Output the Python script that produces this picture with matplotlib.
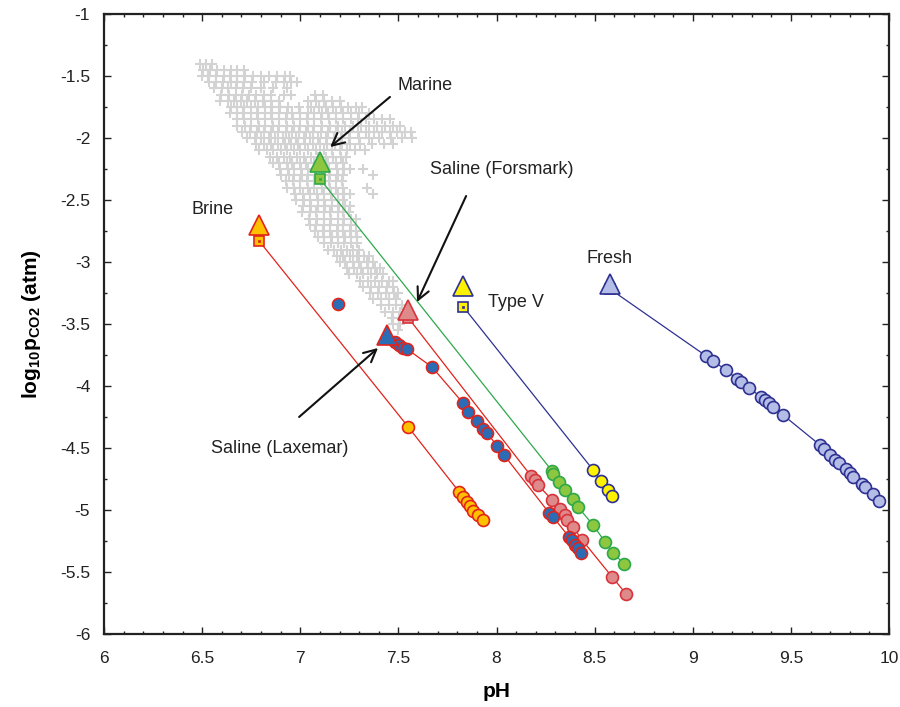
import matplotlib
matplotlib.use("Agg")
import matplotlib.pyplot as plt
from matplotlib import font_manager
from matplotlib.ticker import MultipleLocator

def pick(*names):
    for n in names:
        try:
            font_manager.findfont(n, fallback_to_default=False)
            return n
        except Exception:
            pass
    return "DejaVu Sans"

NARROW = pick("Liberation Sans Narrow", "Liberation Sans")
SANS = pick("Liberation Sans", "DejaVu Sans")

plt.rcParams["mathtext.fontset"] = "custom"
plt.rcParams["mathtext.rm"] = NARROW
plt.rcParams["mathtext.bf"] = NARROW + ":bold"

# ---------------- data ----------------
# gray cloud of background samples (rows of pH at a given logPCO2)
cloud_rows = [
    (-1.40, [6.49, 6.52, 6.55]),
    (-1.45, [6.505, 6.54, 6.575, 6.61, 6.645, 6.68, 6.715]),
    (-1.50, [6.50, 6.53, 6.57, 6.61, 6.64, 6.68, 6.72, 6.76, 6.80, 6.84, 6.88, 6.92, 6.95]),
    (-1.55, [6.535, 6.57, 6.605, 6.645, 6.68, 6.715, 6.755, 6.815, 6.875, 6.915, 6.955, 6.985]),
    (-1.60, [6.56, 6.60, 6.63, 6.67, 6.71, 6.75, 6.80, 6.86, 6.93]),
    (-1.65, [6.595, 6.635, 6.67, 6.705, 6.74, 6.775, 6.815, 6.85, 6.915, 6.955, 7.075, 7.115]),
    (-1.70, [6.59, 6.63, 6.66, 6.70, 6.73, 6.77, 6.81, 6.85, 6.89, 7.04, 7.08, 7.12, 7.16, 7.20]),
    (-1.75, [6.645, 6.68, 6.715, 6.75, 6.785, 6.82, 6.855, 6.895, 6.935, 6.995, 7.055, 7.095,
             7.13, 7.165, 7.205, 7.245, 7.285, 7.315]),
    (-1.80, [6.64, 6.68, 6.71, 6.75, 6.78, 6.82, 6.85, 6.89, 6.93, 6.96, 7.00, 7.04, 7.07, 7.11,
             7.14, 7.18, 7.22, 7.26, 7.30, 7.35]),
    (-1.85, [6.675, 6.715, 6.75, 6.785, 6.82, 6.855, 6.89, 6.925, 6.965, 7.00, 7.035, 7.07, 7.105,
             7.145, 7.18, 7.22, 7.26, 7.295, 7.335, 7.375, 7.415, 7.455]),
    (-1.90, [6.68, 6.72, 6.75, 6.79, 6.82, 6.86, 6.89, 6.93, 6.97, 7.00, 7.04, 7.07, 7.11, 7.15,
             7.19, 7.23, 7.27, 7.31, 7.35, 7.39, 7.43, 7.47, 7.51]),
    (-1.95, [6.705, 6.745, 6.78, 6.815, 6.85, 6.885, 6.925, 6.96, 6.995, 7.03, 7.065, 7.105, 7.14,
             7.18, 7.215, 7.255, 7.295, 7.335, 7.375, 7.415, 7.455, 7.495, 7.535, 7.565]),
    (-2.00, [6.73, 6.77, 6.80, 6.84, 6.87, 6.91, 6.94, 6.98, 7.02, 7.05, 7.09, 7.13, 7.17, 7.21,
             7.25, 7.30, 7.35, 7.40, 7.46, 7.52, 7.57]),
    (-2.05, [6.775, 6.815, 6.85, 6.885, 6.92, 6.955, 6.99, 7.025, 7.065, 7.10, 7.135, 7.175,
             7.215, 7.255, 7.305, 7.365, 7.425, 7.47]),
    (-2.10, [6.79, 6.83, 6.86, 6.90, 6.93, 6.97, 7.00, 7.04, 7.08, 7.12, 7.16, 7.20, 7.24, 7.28, 7.33]),
    (-2.15, [6.845, 6.88, 6.915, 6.95, 6.985, 7.02, 7.055, 7.09, 7.13, 7.165, 7.205, 7.235]),
    (-2.20, [6.86, 6.89, 6.93, 6.96, 7.00, 7.03, 7.07, 7.10, 7.14, 7.18, 7.22]),
    (-2.25, [6.895, 6.935, 6.97, 7.005, 7.04, 7.075, 7.11, 7.145, 7.185, 7.225, 7.255, 7.32]),
    (-2.30, [6.90, 6.94, 6.97, 7.01, 7.04, 7.08, 7.12, 7.15, 7.19, 7.22, 7.37]),
    (-2.35, [6.925, 6.965, 7.00, 7.035, 7.07, 7.105, 7.145, 7.18, 7.215]),
    (-2.40, [6.93, 6.97, 7.00, 7.04, 7.07, 7.11, 7.15, 7.18, 7.22, 7.34]),
    (-2.45, [6.975, 7.015, 7.05, 7.085, 7.12, 7.155, 7.19, 7.225, 7.255, 7.37]),
    (-2.50, [6.98, 7.02, 7.05, 7.09, 7.12, 7.16, 7.19, 7.22]),
    (-2.55, [7.015, 7.055, 7.09, 7.125, 7.16, 7.195, 7.23, 7.255]),
    (-2.60, [7.01, 7.05, 7.08, 7.12, 7.15, 7.19, 7.22, 7.25]),
    (-2.65, [7.045, 7.085, 7.12, 7.155, 7.19, 7.225, 7.26, 7.285]),
    (-2.70, [7.05, 7.08, 7.12, 7.15, 7.19, 7.22, 7.26]),
    (-2.75, [7.075, 7.115, 7.15, 7.185, 7.22, 7.255, 7.285]),
    (-2.80, [7.09, 7.12, 7.16, 7.19, 7.23, 7.26, 7.29]),
    (-2.85, [7.12, 7.155, 7.19, 7.225, 7.26, 7.29]),
    (-2.90, [7.14, 7.17, 7.21, 7.24, 7.27, 7.30]),
    (-2.95, [7.185, 7.22, 7.255, 7.29, 7.325, 7.35]),
    (-3.00, [7.20, 7.23, 7.27, 7.30, 7.34, 7.37]),
    (-3.05, [7.24, 7.275, 7.31, 7.345, 7.38, 7.405]),
    (-3.10, [7.25, 7.29, 7.32, 7.36, 7.39, 7.42]),
    (-3.15, [7.305, 7.345, 7.38, 7.415, 7.45, 7.47]),
    (-3.20, [7.32, 7.36, 7.40, 7.44, 7.47]),
    (-3.25, [7.355, 7.395, 7.435, 7.475, 7.50]),
    (-3.30, [7.37, 7.41, 7.45, 7.49]),
    (-3.35, [7.41, 7.45, 7.49, 7.52]),
    (-3.40, [7.43, 7.47, 7.51]),
    (-3.45, [7.465, 7.505]),
    (-3.50, [7.47, 7.51]),
    (-3.55, [7.50]),
]
cloud_ph = [x for y, xs in cloud_rows for x in xs]
cloud_pco2 = [y for y, xs in cloud_rows for x in xs]

# end members (triangle = original water, square = start of degassing path)
brine_tri = (6.79, -2.70);   brine_sq = (6.79, -2.83)
marine_tri = (7.10, -2.19);  marine_sq = (7.10, -2.33)
fors_tri = (7.55, -3.39);    fors_sq = (7.55, -3.45)
lax_tri = (7.44, -3.59)
typev_tri = (7.83, -3.19);   typev_sq = (7.83, -3.36)
fresh_tri = (8.58, -3.18);   fresh_sq = (8.58, -3.22)

brine_ph = [7.55, 7.81, 7.83, 7.85, 7.865, 7.88, 7.905, 7.93]
brine_pco2 = [-4.33, -4.855, -4.895, -4.935, -4.97, -5.01, -5.04, -5.08]

marine_ph = [8.283, 8.288, 8.318, 8.349, 8.390, 8.415, 8.492, 8.553, 8.594, 8.650]
marine_pco2 = [-4.685, -4.71, -4.774, -4.839, -4.911, -4.976, -5.121, -5.258, -5.347, -5.435]

fors_ph = [8.176, 8.196, 8.211, 8.283, 8.324, 8.349, 8.359, 8.390, 8.436, 8.589, 8.660]
fors_pco2 = [-4.726, -4.758, -4.798, -4.919, -4.992, -5.04, -5.081, -5.137, -5.242, -5.54, -5.677]

lax_ph = [7.483, 7.503, 7.524, 7.544, 7.671, 7.829, 7.855, 7.901, 7.931, 7.952, 8.003, 8.038,
          8.268, 8.288, 8.370, 8.385, 8.400, 8.415, 8.431]
lax_pco2 = [-3.645, -3.669, -3.694, -3.702, -3.847, -4.137, -4.21, -4.282, -4.347, -4.379, -4.484,
            -4.556, -5.024, -5.056, -5.218, -5.242, -5.282, -5.306, -5.347]
lax_extra_ph = [7.192]
lax_extra_pco2 = [-3.339]

typev_ph = [8.492, 8.532, 8.568, 8.589]
typev_pco2 = [-4.677, -4.766, -4.839, -4.887]

fresh_ph = [9.068, 9.103, 9.169, 9.225, 9.246, 9.287, 9.348, 9.368, 9.389, 9.409, 9.460,
            9.648, 9.669, 9.699, 9.725, 9.745, 9.781, 9.801, 9.817, 9.862, 9.878, 9.918, 9.949]
fresh_pco2 = [-3.758, -3.798, -3.871, -3.944, -3.968, -4.016, -4.089, -4.113, -4.137, -4.169, -4.234,
              -4.476, -4.508, -4.556, -4.597, -4.621, -4.669, -4.702, -4.734, -4.79, -4.815, -4.871, -4.927]

# ---------------- figure ----------------
fig = plt.figure(figsize=(9.0, 7.07), dpi=100)
ax = fig.add_axes([0.1156, 0.1033, 0.8722, 0.8769])
ax.set_xlim(6, 10)
ax.set_ylim(-6, -1)

ax.plot(cloud_ph, cloud_pco2, linestyle="none", marker="+", ms=7, mew=1.5,
        color="#d3d3d3", zorder=1)

RED = "#e2231a"
GREEN = "#2ea84a"
NAVY = "#2e3192"

def series(tri, sq, xs, ys, fill, edge, line, tri_edge=None):
    start = sq if sq is not None else tri
    ax.plot([start[0]] + list(xs), [start[1]] + list(ys), color=line, lw=0.9, zorder=2)
    ax.plot(xs, ys, linestyle="none", marker="o", ms=8.6, mfc=fill, mec=edge, mew=1.2, zorder=3)
    if sq is not None:
        ax.plot([sq[0]], [sq[1]], marker="s", ms=7.5, mfc=fill, mec=edge, mew=1.2,
                linestyle="none", zorder=4)
        ax.plot([sq[0]], [sq[1]], marker="s", ms=1.6, mfc=edge, mec=edge, mew=0.5,
                linestyle="none", zorder=4)
    ax.plot([tri[0]], [tri[1]], marker="^", ms=14, mfc=fill,
            mec=tri_edge if tri_edge else edge, mew=1.2, linestyle="none", zorder=5)

series(brine_tri, brine_sq, brine_ph, brine_pco2, "#ffc000", RED, RED)
series(marine_tri, marine_sq, marine_ph, marine_pco2, "#8dc63f", GREEN, GREEN)
series(fors_tri, fors_sq, fors_ph, fors_pco2, "#de8a8a", "#d8323a", RED)
series(typev_tri, typev_sq, typev_ph, typev_pco2, "#fff200", NAVY, NAVY)
series(fresh_tri, fresh_sq, fresh_ph, fresh_pco2, "#b4bde6", NAVY, NAVY)
series(lax_tri, None, lax_ph, lax_pco2, "#2b6cb4", RED, RED)
ax.plot(lax_extra_ph, lax_extra_pco2, linestyle="none", marker="o", ms=8.6, mfc="#2b6cb4",
        mec=RED, mew=1.2, zorder=3)

# labels + arrows
tkw = dict(fontsize=13, family=SANS, color="#222222", va="center", ha="left")
ax.text(7.493, -1.573, "Marine", **tkw)
ax.text(7.661, -2.258, "Saline (Forsmark)", **tkw)
ax.text(6.448, -2.58, "Brine", **tkw)
ax.text(7.957, -3.33, "Type V", **tkw)
ax.text(8.461, -2.968, "Fresh", **tkw)
ax.text(6.545, -4.508, "Saline (Laxemar)", **tkw)

akw = dict(arrowstyle="->", lw=1.5, color="#111111", mutation_scale=22, shrinkA=0, shrinkB=0)
ax.annotate("", xy=(7.152, -2.073), xytext=(7.457, -1.669), arrowprops=akw, zorder=6)
ax.annotate("", xy=(7.595, -3.323), xytext=(7.845, -2.468), arrowprops=akw, zorder=6)
ax.annotate("", xy=(7.396, -3.694), xytext=(6.994, -4.25), arrowprops=akw, zorder=6)

# axes styling
ax.xaxis.set_major_locator(MultipleLocator(0.5))
ax.xaxis.set_minor_locator(MultipleLocator(0.1))
ax.yaxis.set_major_locator(MultipleLocator(0.5))
ax.yaxis.set_minor_locator(MultipleLocator(0.25))
ax.tick_params(which="both", direction="in", top=True, right=True, width=1.0, color="#222222")
ax.tick_params(which="major", length=5)
ax.tick_params(which="minor", length=2.5)
ax.tick_params(axis="x", which="major", pad=12)
ax.tick_params(axis="y", which="major", pad=10)
for s in ax.spines.values():
    s.set_linewidth(1.6)
    s.set_color("#222222")

ax.set_xticks([6, 6.5, 7, 7.5, 8, 8.5, 9, 9.5, 10])
ax.set_xticklabels(["6", "6.5", "7", "7.5", "8", "8.5", "9", "9.5", "10"])
ax.set_yticks([-6, -5.5, -5, -4.5, -4, -3.5, -3, -2.5, -2, -1.5, -1])
ax.set_yticklabels(["-6", "-5.5", "-5", "-4.5", "-4", "-3.5", "-3", "-2.5", "-2", "-1.5", "-1"])
for lab in ax.get_xticklabels() + ax.get_yticklabels():
    lab.set_fontfamily(NARROW)
    lab.set_fontsize(12.5)
    lab.set_color("#222222")

ax.set_xlabel("pH", fontsize=15, fontweight="bold", family=NARROW, labelpad=12)
ax.set_ylabel(r"log$_{\mathbf{10}}$p$_{\mathbf{CO2}}$ (atm)", fontsize=15, fontweight="bold",
              family=NARROW, labelpad=12)

fig.savefig("out.png", dpi=100)
